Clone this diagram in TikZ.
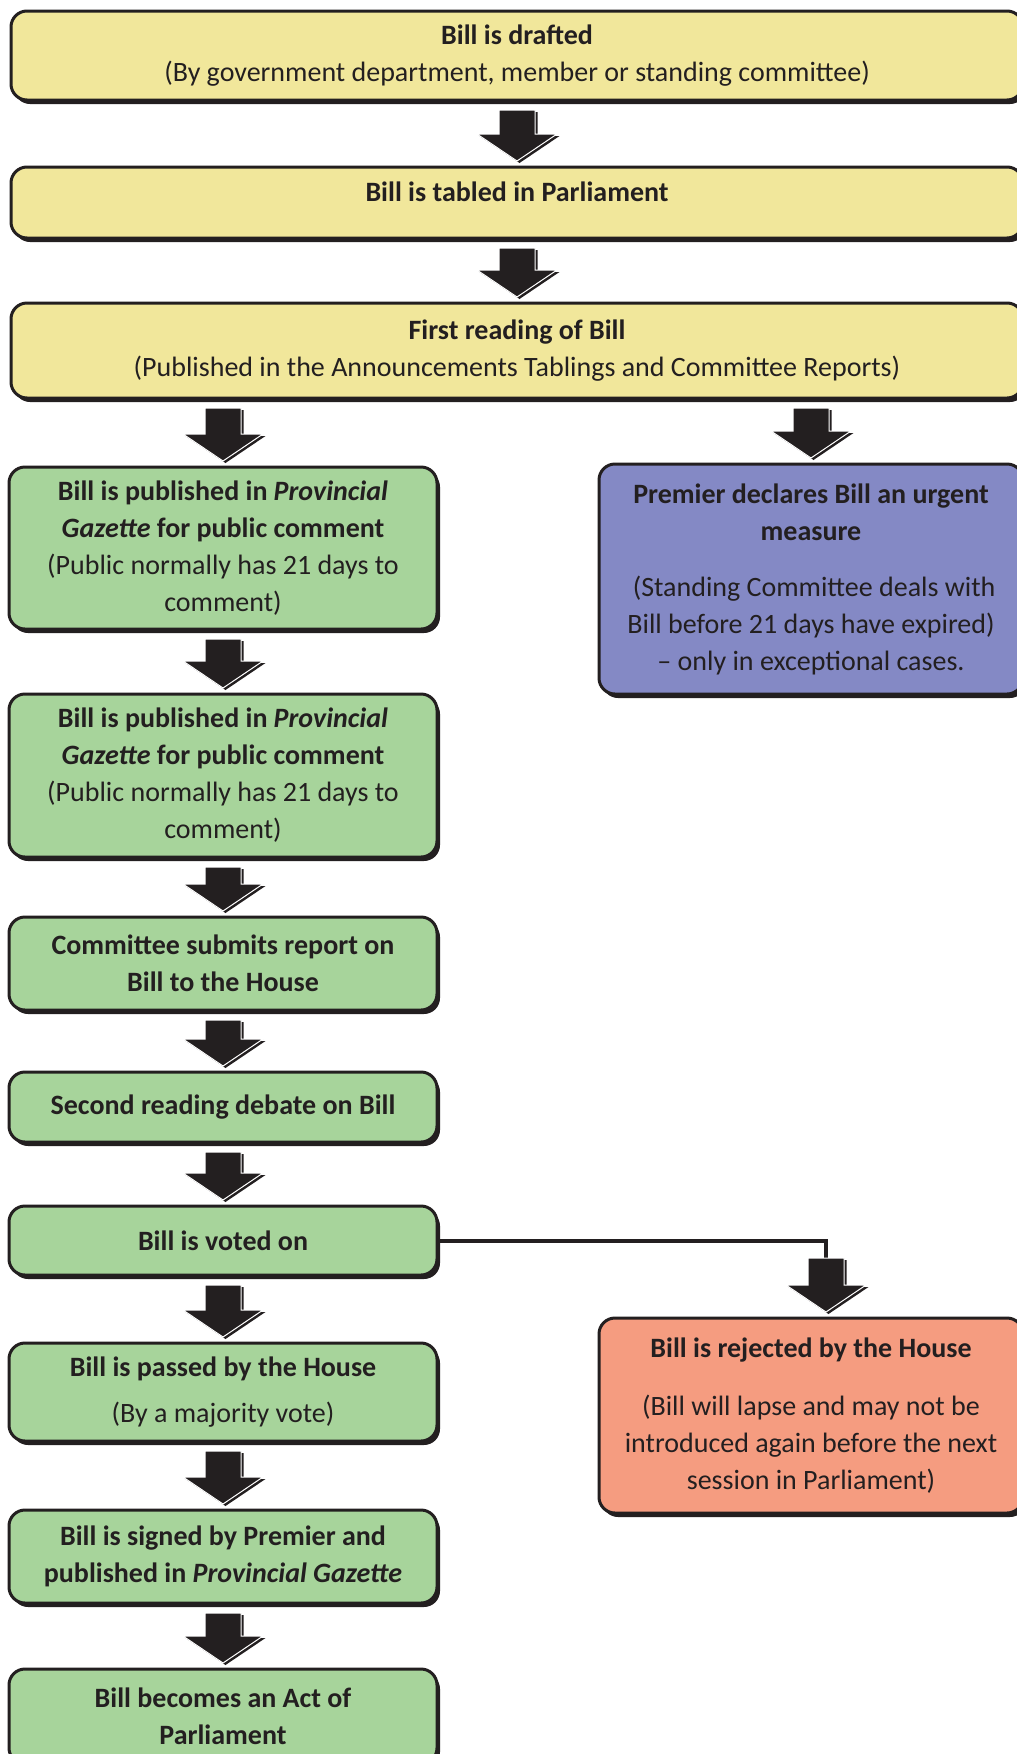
\documentclass[tikz,border=0pt]{standalone}
\usepackage{fontspec}
\setmainfont{Carlito}
\usepackage{tikz}
\usetikzlibrary{calc,
                positioning,
                shadows}
\definecolor{billyellow}{HTML}{F1E79B}
\definecolor{billgreen}{HTML}{A7D49B}
\definecolor{billblue}{HTML}{8489C5}
\definecolor{billred}{HTML}{F59C80}
\definecolor{billink}{HTML}{231F20}
\tikzset{
  stage/.style={draw=billink, line width=3pt, rounded corners=16pt, align=center,
    inner sep=4pt, outer sep=0pt, text=billink, font=\fontsize{28}{37}\selectfont,
    drop shadow={shadow xshift=3pt, shadow yshift=-4pt, fill=billink, opacity=1}},
  widebox/.style={stage, fill=billyellow, minimum width=1012pt},
  leftbox/.style={stage, fill=billgreen, minimum width=428pt},
  urgentbox/.style={stage, fill=billblue, minimum width=424pt},
  rejectbox/.style={stage, fill=billred, minimum width=424pt},
  connector/.style={draw=billink, line width=4pt}
}
\newcommand{\arrowshape}[2]{($(#1)+(-18,0)$) -- ($(#1)+(18,0)$) -- ($(#2)+(18,27)$)
  -- ($(#2)+(40,27)$) -- (#2) -- ($(#2)+(-40,27)$) -- ($(#2)+(-18,27)$) -- cycle}
\newcommand{\blkarrow}[2]{% block arrow from under #1 down to just above #2
  \coordinate (t) at ($(#1)+(0,-10)$);
  \coordinate (p) at ($(#2)+(0,6)$);
  \coordinate (ts) at ($(t)+(2.5,-2)$);
  \coordinate (ps) at ($(p)+(2.5,-2)$);
  \fill[billink] \arrowshape{ts}{ps};
  \filldraw[fill=billink, draw=white, line width=1pt] \arrowshape{t}{p};
}
\begin{document}
\begin{tikzpicture}[x=1pt, y=1pt]
  \useasboundingbox (0,0) rectangle (1017,-1754);

  % top row, full width
  \node[widebox, minimum height=89pt, anchor=north west] (drafted) at (11,-11)
    {\textbf{Bill is drafted}\\(By government department, member or standing committee)};
  \node[widebox, minimum height=71pt, text depth=22pt] (tabled) [below=67pt of drafted]
    {\textbf{Bill is tabled in Parliament}};
  \node[widebox, minimum height=95pt] (first) [below=65pt of tabled]
    {\textbf{First reading of Bill}\\(Published in the Announcements Tablings and Committee Reports)};

  % left column
  \node[leftbox, minimum height=162pt] (gazette1) [below right=69pt and -2pt of first.south west]
    {\textbf{Bill is published in \textit{Provincial}}\\\textbf{\textit{Gazette} for public comment}\\(Public normally has 21 days to\\comment)};
  \node[leftbox, minimum height=163pt] (gazette2) [below=65pt of gazette1]
    {\textbf{Bill is published in \textit{Provincial}}\\\textbf{\textit{Gazette} for public comment}\\(Public normally has 21 days to\\comment)};
  \node[leftbox, minimum height=93pt] (report) [below=60pt of gazette2]
    {\textbf{Committee submits report on}\\\textbf{Bill to the House}};
  \node[leftbox, minimum height=70pt] (second) [below=62pt of report]
    {\textbf{Second reading debate on Bill}};
  \node[leftbox, minimum height=69pt] (voted) [below=64pt of second]
    {\textbf{Bill is voted on}};
  \node[leftbox, minimum height=98pt] (passed) [below=68pt of voted]
    {\textbf{Bill is passed by the House}\\[9pt](By a majority vote)};
  \node[leftbox, minimum height=93pt] (signed) [below=69pt of passed]
    {\textbf{Bill is signed by Premier and}\\\textbf{published in \textit{Provincial Gazette}}};
  \node[leftbox, minimum height=95pt] (act) [below=66pt of signed]
    {\textbf{Bill becomes an Act of}\\\textbf{Parliament}};

  % right column
  \node[urgentbox, minimum height=230pt] (urgent) [below left=66pt and 0pt of first.south east]
    {\textbf{Premier declares Bill an urgent}\\\textbf{measure}\\[19pt]\ (Standing Committee deals with\\Bill before 21 days have expired)\\– only in exceptional cases.};
  \node[rejectbox, minimum height=195pt] (rejected) [below right=43pt and 162pt of voted.south east]
    {\textbf{Bill is rejected by the House}\\[21pt](Bill will lapse and may not be\\introduced again before the next\\session in Parliament)};

  \coordinate (rejin) at ($(rejected.north)+(15,0)$);
  \coordinate (rejtop) at ($(rejin)+(0,70)$);
  \draw[connector] (voted.east) -| ($(rejtop)+(0,-12)$);

  % block arrows
  \blkarrow{drafted.south}{tabled.north}
  \blkarrow{tabled.south}{first.north}
  \blkarrow{first.south -| gazette1.north}{gazette1.north}
  \blkarrow{first.south -| urgent.north}{urgent.north}
  \blkarrow{gazette1.south}{gazette2.north}
  \blkarrow{gazette2.south}{report.north}
  \blkarrow{report.south}{second.north}
  \blkarrow{second.south}{voted.north}
  \blkarrow{voted.south}{passed.north}
  \blkarrow{passed.south}{signed.north}
  \blkarrow{signed.south}{act.north}
  \blkarrow{rejtop}{rejin}
\end{tikzpicture}
\end{document}
